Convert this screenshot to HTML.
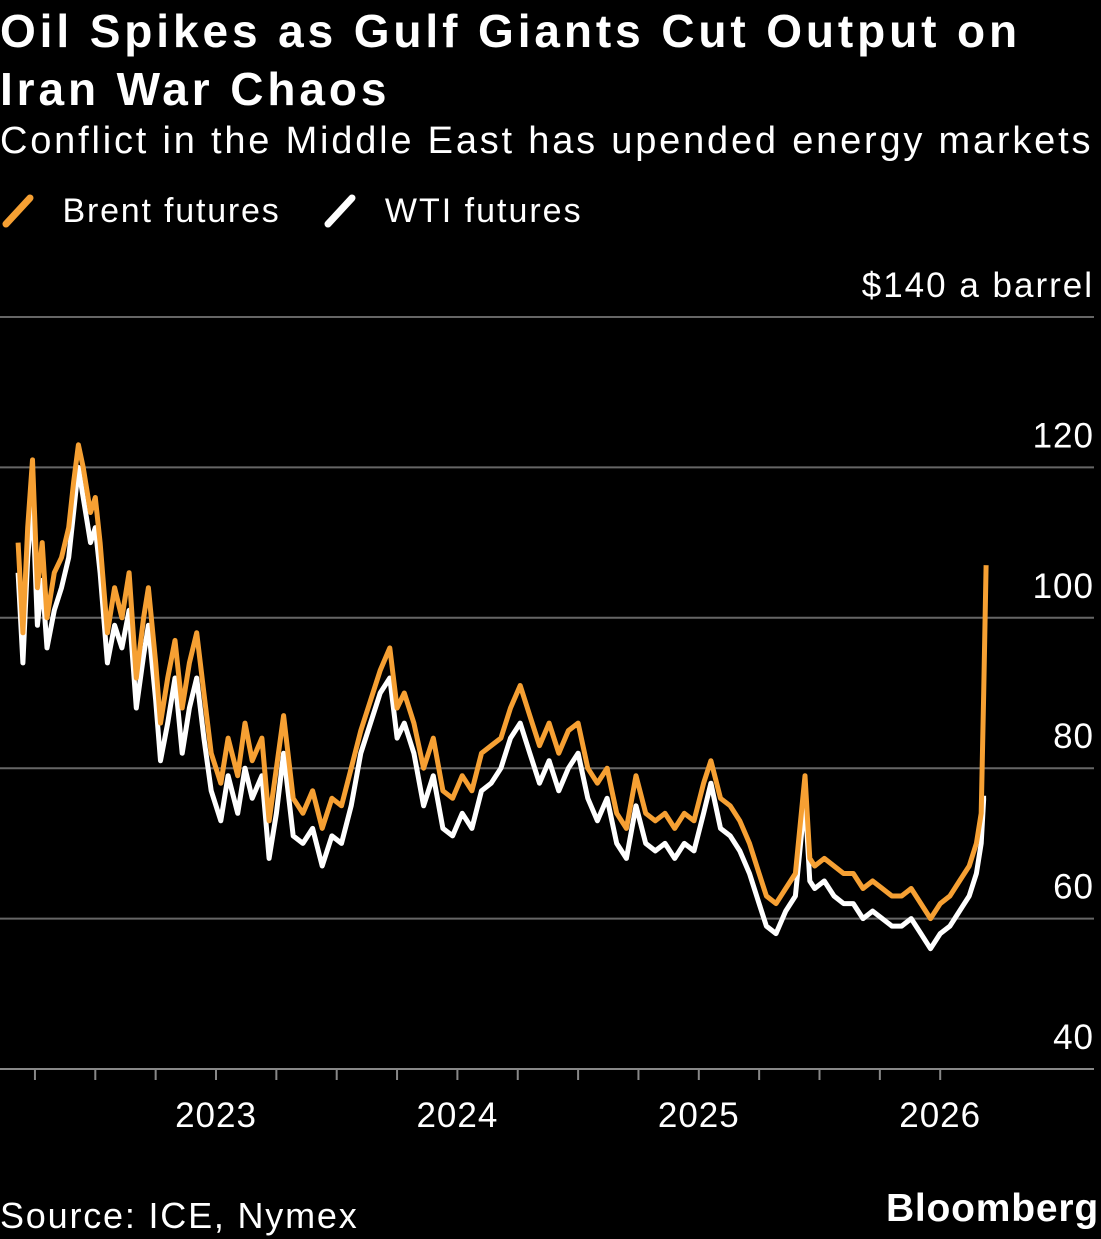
<!DOCTYPE html>
<html><head><meta charset="utf-8"><style>
body{margin:0;background:#000;width:1101px;height:1239px;overflow:hidden;font-family:"Liberation Sans",sans-serif;color:#fff;position:relative}
.t{position:absolute;white-space:nowrap}
</style></head><body>
<div class="t" style="left:0;top:2px;font-size:46px;font-weight:bold;line-height:58px;letter-spacing:3.9px">Oil Spikes as Gulf Giants Cut Output on<br>Iran War Chaos</div>
<div class="t" style="left:0;top:120px;font-size:38px;letter-spacing:2.8px">Conflict in the Middle East has upended energy markets</div>
<div class="t" style="left:0;top:190px;font-size:34px;letter-spacing:1.8px"><svg width="40" height="40" style="vertical-align:-8px"><line x1="6" y1="34" x2="30" y2="8" stroke="#f6a033" stroke-width="7" stroke-linecap="round"/></svg> &nbsp;Brent futures</div>
<div class="t" style="left:322px;top:190px;font-size:34px;letter-spacing:2px"><svg width="40" height="40" style="vertical-align:-8px"><line x1="6" y1="34" x2="30" y2="8" stroke="#fff" stroke-width="7" stroke-linecap="round"/></svg> &nbsp;WTI futures</div>
<svg id="chart" width="1101" height="1239" style="position:absolute;left:0;top:0"></svg>
<div class="t" style="left:0;top:1195px;font-size:36px;letter-spacing:1.8px">Source: ICE, Nymex</div>
<div class="t" style="right:2px;top:1187px;font-size:39px;font-weight:bold;letter-spacing:0.8px">Bloomberg</div>
<script>
const dates=[2022.18,2022.20,2022.22,2022.24,2022.26,2022.28,2022.30,2022.33,2022.36,2022.39,2022.41,2022.43,2022.45,2022.48,2022.50,2022.52,2022.55,2022.58,2022.61,2022.64,2022.67,2022.70,2022.72,2022.75,2022.77,2022.80,2022.83,2022.86,2022.89,2022.92,2022.95,2022.98,2023.02,2023.05,2023.09,2023.12,2023.15,2023.19,2023.22,2023.25,2023.28,2023.32,2023.36,2023.40,2023.44,2023.48,2023.52,2023.56,2023.60,2023.64,2023.68,2023.72,2023.75,2023.78,2023.82,2023.86,2023.90,2023.94,2023.98,2024.02,2024.06,2024.10,2024.14,2024.18,2024.22,2024.26,2024.30,2024.34,2024.38,2024.42,2024.46,2024.50,2024.54,2024.58,2024.62,2024.66,2024.70,2024.74,2024.78,2024.82,2024.86,2024.90,2024.94,2024.98,2025.02,2025.05,2025.09,2025.13,2025.17,2025.21,2025.25,2025.28,2025.32,2025.36,2025.40,2025.44,2025.46,2025.48,2025.52,2025.56,2025.60,2025.64,2025.68,2025.72,2025.76,2025.80,2025.84,2025.88,2025.92,2025.96,2026.00,2026.04,2026.08,2026.12,2026.15,2026.17,2026.18,2026.19];
const brent=[110,98,112,121,104,110,100,106,108,112,118,123,120,114,116,110,98,104,100,106,92,100,104,94,86,92,97,88,94,98,90,82,78,84,79,86,81,84,73,80,87,76,74,77,72,76,75,80,85,89,93,96,88,90,86,80,84,77,76,79,77,82,83,84,88,91,87,83,86,82,85,86,80,78,80,74,72,79,74,73,74,72,74,73,78,81,76,75,73,70,66,63,62,64,66,79,68,67,68,67,66,66,64,65,64,63,63,64,62,60,62,63,65,67,70,74,90,107];
const wti=[106,94,108,116,99,105,96,101,104,108,114,120,116,110,112,106,94,99,96,101,88,95,99,89,81,86,92,82,88,92,84,77,73,79,74,80,76,79,68,74,82,71,70,72,67,71,70,75,82,86,90,92,84,86,82,75,79,72,71,74,72,77,78,80,84,86,82,78,81,77,80,82,76,73,76,70,68,75,70,69,70,68,70,69,74,78,72,71,69,66,62,59,58,61,63,76,65,64,65,63,62,62,60,61,60,59,59,60,58,56,58,59,61,63,66,70,76,76];
const yTicks=[40,60,80,100,120,140];
const xYears=[2023,2024,2025,2026];
const svg=document.getElementById('chart');
const NS='http://www.w3.org/2000/svg';
const X=d=>216+(d-2023)*241.4;
const Y=v=>1069-(v-40)*7.52;
function mk(tag,attrs){const e=document.createElementNS(NS,tag);for(const k in attrs)e.setAttribute(k,attrs[k]);svg.appendChild(e);return e;}
yTicks.forEach(v=>{
  if(v>40){const g=mk('line',{x1:0,x2:1094,y1:Y(v),y2:Y(v),stroke:'#666','stroke-width':2});
  
  }
  const t=mk('text',{x:1094,y:Y(v)-20,'text-anchor':'end',fill:'#fff','font-size':35,'letter-spacing':v===140?2:1,'font-family':'Liberation Sans, sans-serif'});
  t.textContent=v===140?'$140 a barrel':String(v);
  
  
});
const ax=mk('line',{x1:0,x2:1094,y1:1069,y2:1069,stroke:'#888','stroke-width':2});


for(let q=2022.25;q<2026.1;q+=0.25){
  const tk=mk('line',{x1:X(q),x2:X(q),y1:1069,y2:1080,stroke:'#888','stroke-width':2});
  
  
}
xYears.forEach(y=>{
  const t=mk('text',{x:X(y),y:1127,'text-anchor':'middle',fill:'#fff','font-size':35,'letter-spacing':1,'font-family':'Liberation Sans, sans-serif'});
  t.textContent=String(y);
  
  
});
function line(vals,col,name){
  const d=vals.map((v,i)=>(i?'L':'M')+X(dates[i]).toFixed(1)+','+Y(v).toFixed(1)).join('');
  const p=mk('path',{d:d,fill:'none',stroke:col,'stroke-width':5,'stroke-linejoin':'round'});
  
  
}
line(wti,'#ffffff','wti-line');
line(brent,'#f6a033','brent-line');
</script>
</body></html>
